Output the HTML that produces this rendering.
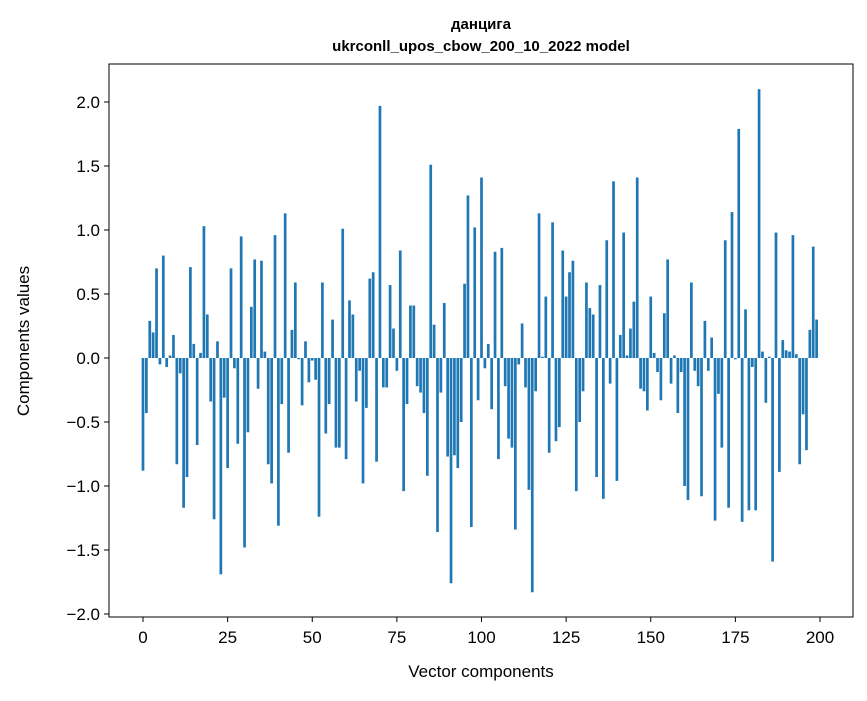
<!DOCTYPE html>
<html><head><meta charset="utf-8"><style>
body{margin:0;background:#fff;}
svg text{font-family:"Liberation Sans","DejaVu Sans",sans-serif;fill:#000;}
</style></head><body>
<svg width="867" height="696" xmlns="http://www.w3.org/2000/svg">
<rect width="867" height="696" fill="#fff"/>
<text x="481" y="29" text-anchor="middle" font-size="15" font-weight="bold">данцига</text>
<text x="481" y="51" text-anchor="middle" font-size="15" font-weight="bold">ukrconll_upos_cbow_200_10_2022 model</text>
<g id="bars"></g>
<g id="axes"></g>
<rect x="109" y="64" width="744" height="553" fill="none" stroke="#000" stroke-width="1"/>
<text x="481" y="677" text-anchor="middle" font-size="17">Vector components</text>
<text transform="translate(29,341) rotate(-90)" text-anchor="middle" font-size="17">Components values</text>
</svg>
<script>
const values = [-0.88,-0.43,0.29,0.20,0.70,-0.05,0.80,-0.07,0.02,0.18,
-0.83,-0.12,-1.17,-0.93,0.71,0.11,-0.68,0.04,1.03,0.34,
-0.34,-1.26,0.13,-1.69,-0.31,-0.86,0.70,-0.08,-0.67,0.95,
-1.48,-0.58,0.40,0.77,-0.24,0.76,0.05,-0.83,-0.98,0.96,
-1.31,-0.36,1.13,-0.74,0.22,0.59,-0.01,-0.37,0.13,-0.19,
-0.02,-0.17,-1.24,0.59,-0.59,-0.36,0.30,-0.70,-0.70,1.01,
-0.79,0.45,0.34,-0.34,-0.10,-0.98,-0.39,0.62,0.67,-0.81,
1.97,-0.23,-0.23,0.57,0.23,-0.10,0.84,-1.04,-0.36,0.41,
0.41,-0.22,-0.27,-0.43,-0.92,1.51,0.26,-1.36,-0.27,0.43,
-0.77,-1.76,-0.76,-0.86,-0.50,0.58,1.27,-1.32,1.02,-0.33,
1.41,-0.08,0.11,-0.40,0.83,-0.79,0.86,-0.22,-0.63,-0.70,
-1.34,-0.05,0.27,-0.23,-1.03,-1.83,-0.26,1.13,0.01,0.48,
-0.74,1.06,-0.65,-0.54,0.84,0.48,0.67,0.76,-1.04,-0.50,
-0.26,0.59,0.39,0.34,-0.93,0.57,-1.10,0.92,-0.20,1.38,
-0.96,0.18,0.98,0.02,0.23,0.44,1.41,-0.24,-0.26,-0.41,
0.48,0.04,-0.11,-0.33,0.35,0.77,-0.20,0.02,-0.43,-0.11,
-1.00,-1.11,0.59,-0.10,-0.22,-1.08,0.29,-0.10,0.16,-1.27,
-0.28,-0.70,0.92,-1.17,1.14,-0.01,1.79,-1.28,0.38,-1.19,
-0.07,-1.19,2.10,0.05,-0.35,0.01,-1.59,0.98,-0.89,0.14,
0.06,0.05,0.96,0.03,-0.83,-0.44,-0.72,0.22,0.87,0.30];
const yTicks = [-2.0,-1.5,-1.0,-0.5,0.0,0.5,1.0,1.5,2.0];
const yTickLabels = ["\u22122.0","\u22121.5","\u22121.0","\u22120.5","0.0","0.5","1.0","1.5","2.0"];
const xTicks = [0,25,50,75,100,125,150,175,200];

const NS="http://www.w3.org/2000/svg";
function xs(v){return 143+v*3.385;}
function ys(v){return 358-128*v;}
const bars=document.getElementById('bars');
values.forEach((v,i)=>{
  const r=document.createElementNS(NS,'rect');
  const w=3.385*0.8;
  r.setAttribute('x',xs(i)-w/2);
  r.setAttribute('width',w);
  r.setAttribute('y',Math.min(ys(v),ys(0)));
  r.setAttribute('height',Math.max(Math.abs(ys(v)-ys(0)),0.3));
  r.setAttribute('fill','#1f77b4');
  
  
  bars.appendChild(r);
});
const axes=document.getElementById('axes');
yTicks.forEach((t,i)=>{
  const y=ys(t);
  const l=document.createElementNS(NS,'line');
  l.setAttribute('x1',104);l.setAttribute('x2',109);l.setAttribute('y1',y);l.setAttribute('y2',y);
  l.setAttribute('stroke','#000');
  
  
  axes.appendChild(l);
  const tx=document.createElementNS(NS,'text');
  tx.setAttribute('x',100);tx.setAttribute('y',y+6);tx.setAttribute('text-anchor','end');tx.setAttribute('font-size','17');
  tx.textContent=yTickLabels[i];
  
  
  axes.appendChild(tx);
});
xTicks.forEach(t=>{
  const x=xs(t);
  const l=document.createElementNS(NS,'line');
  l.setAttribute('x1',x);l.setAttribute('x2',x);l.setAttribute('y1',617);l.setAttribute('y2',622);
  l.setAttribute('stroke','#000');
  
  
  axes.appendChild(l);
  const tx=document.createElementNS(NS,'text');
  tx.setAttribute('x',x);tx.setAttribute('y',643);tx.setAttribute('text-anchor','middle');tx.setAttribute('font-size','17');
  tx.textContent=String(t);
  
  
  axes.appendChild(tx);
});
</script>
</body></html>
